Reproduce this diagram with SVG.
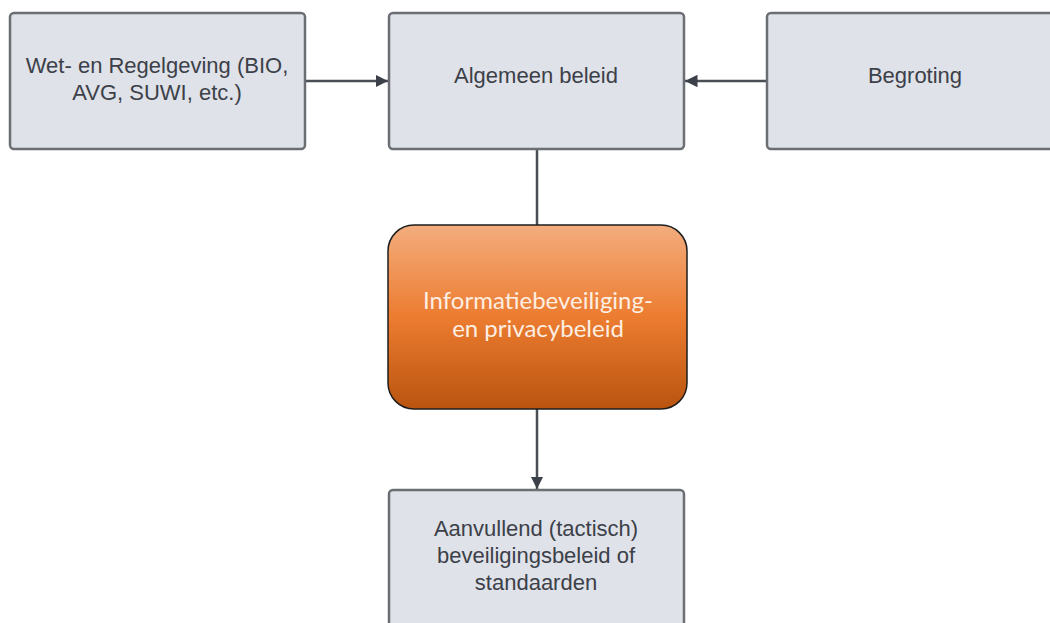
<svg xmlns="http://www.w3.org/2000/svg" width="1050" height="623" viewBox="0 0 1050 623">
<defs>
<style>
.box{fill:#dfe2e8;stroke:#6b6e73;stroke-width:2.5}
.t{font-family:"Liberation Sans",Arial,sans-serif;font-size:22px;fill:#3c4049;text-anchor:middle}
.o{font-family:Lato,"Open Sans",sans-serif;font-size:24px;fill:#fdeee2;text-anchor:middle}
.c{stroke:#4a4e55;stroke-width:2.5;fill:none}
</style>
<linearGradient id="og" x1="0" y1="0" x2="0" y2="1">
<stop offset="0" stop-color="#f3ad7e"/>
<stop offset="0.5" stop-color="#ec7c30"/>
<stop offset="1" stop-color="#b9540f"/>
</linearGradient>
<marker id="ah" viewBox="0 0 10 10" refX="10" refY="5" markerWidth="5" markerHeight="5" orient="auto" markerUnits="strokeWidth">
<path d="M0,0 L10,5 L0,10 z" fill="#3c4049"/>
</marker>
</defs>
<rect width="1050" height="623" fill="#ffffff"/>
<g id="connectors">
<line class="c" x1="305" y1="81" x2="388" y2="81" marker-end="url(#ah)"/>
<line class="c" x1="767" y1="81" x2="685" y2="81" marker-end="url(#ah)"/>
<line class="c" x1="537" y1="149" x2="537" y2="225"/>
<line class="c" x1="537" y1="409" x2="537" y2="489" marker-end="url(#ah)"/>
</g>
<g id="wet">
<rect class="box" x="10" y="13" width="295" height="136" rx="4"/>
<text class="t" x="157" y="73">Wet- en Regelgeving (BIO,</text>
<text class="t" x="157" y="100">AVG, SUWI, etc.)</text>
</g>
<g id="algemeen">
<rect class="box" x="389" y="13" width="295" height="136" rx="4"/>
<text class="t" x="536" y="83">Algemeen beleid</text>
</g>
<g id="begroting">
<rect class="box" x="767" y="13" width="296" height="136" rx="4"/>
<text class="t" x="915" y="83">Begroting</text>
</g>
<g id="infobeleid">
<rect x="388" y="225" width="299" height="184" rx="26" fill="url(#og)" stroke="#1e1e1e" stroke-width="1.5"/>
<text class="o" x="538" y="309">Informatiebeveiliging-</text>
<text class="o" x="538" y="337">en privacybeleid</text>
</g>
<g id="aanvullend">
<rect class="box" x="389" y="490" width="295" height="150" rx="4"/>
<text class="t" x="536" y="536">Aanvullend (tactisch)</text>
<text class="t" x="536" y="563">beveiligingsbeleid of</text>
<text class="t" x="536" y="590">standaarden</text>
</g>
</svg>
